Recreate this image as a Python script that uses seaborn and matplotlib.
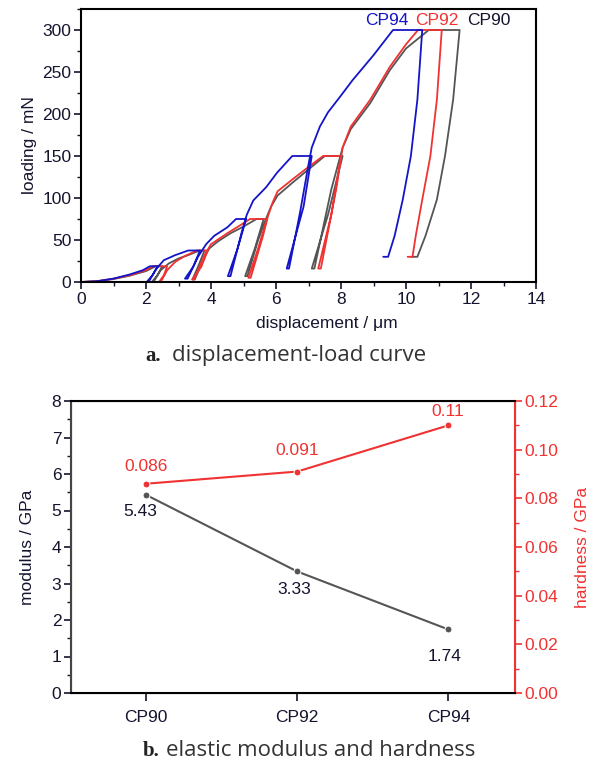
import matplotlib
matplotlib.use("Agg")
import matplotlib.pyplot as plt
import seaborn as sns
from matplotlib.ticker import MultipleLocator

# load-displacement curves (displacement in um, load in mN)
cp94_disp = [0, 0.5, 1.0, 1.5, 1.9, 2.12, 2.37, 2.2, 2.02,
             2.08, 2.3, 2.55, 2.9, 3.3, 3.66, 3.45, 3.2,
             3.28, 3.6, 3.85, 4.1, 4.5, 4.77, 5.08, 4.82, 4.52,
             4.6, 4.95, 5.1, 5.3, 5.7, 6.03, 6.5, 7.1, 6.85, 6.33,
             6.4, 6.75, 7.0, 7.1, 7.35, 7.6, 8.0, 8.35, 9.0, 9.6, 10.5,
             10.35, 10.15, 9.9, 9.65, 9.45, 9.3]
cp94_load = [0, 1, 4, 9, 14, 18.75, 18.75, 8, 0,
             0, 15, 26, 32, 37.5, 37.5, 18, 4,
             4, 30, 45, 55, 65, 75, 75, 40, 7,
             7, 60, 80, 97, 113, 130, 150, 150, 90, 16,
             16, 85, 140, 160, 185, 202, 222, 240, 270, 300, 300,
             217, 150, 98, 55, 30, 30]

cp92_disp = [0, 0.5, 1.0, 1.5, 2.0, 2.2, 2.65, 2.55, 2.4,
             2.45, 2.65, 2.9, 3.2, 3.57, 3.9, 3.7, 3.42,
             3.48, 3.8, 4.0, 4.5, 5.0, 5.2, 5.72, 5.45, 5.15,
             5.22, 5.6, 5.75, 5.9, 6.05, 6.5, 7.0, 7.45, 8.0, 7.7, 7.3,
             7.38, 7.85, 8.05, 8.3, 8.9, 9.5, 10.0, 10.37, 11.1,
             10.95, 10.75, 10.5, 10.3, 10.2, 10.05]
cp92_load = [0, 1, 4, 8, 14, 18.75, 18.75, 8, 0,
             0, 14, 24, 31, 37.5, 37.5, 18, 3,
             3, 32, 45, 58, 70, 75, 75, 40, 5,
             5, 55, 78, 95, 108, 122, 137, 150, 150, 80, 16,
             16, 110, 160, 185, 217, 256, 283, 300, 300,
             217, 150, 98, 55, 30, 30]

cp90_disp = [0, 0.5, 1.0, 1.5, 2.0, 2.3, 2.5, 2.35, 2.18,
             2.23, 2.45, 2.7, 3.0, 3.3, 3.65, 3.8, 3.6, 3.43,
             3.5, 3.8, 3.95, 4.2, 4.6, 5.0, 5.4, 5.62, 5.35, 5.05,
             5.12, 5.45, 5.7, 5.85, 6.05, 6.5, 7.0, 7.5, 8.05, 7.6, 7.1,
             7.18, 7.7, 8.05, 8.3, 8.9, 9.5, 10.0, 10.7, 11.65,
             11.45, 11.2, 10.95, 10.6, 10.35, 10.15]
cp90_load = [0, 0.8, 3.5, 7.5, 13, 18.75, 18.75, 8, 0,
             0, 14, 22, 28, 32, 37.5, 37.5, 18, 3,
             3, 30, 40, 48, 58, 66, 75, 75, 40, 7,
             7, 50, 76, 90, 103, 118, 134, 150, 150, 80, 16,
             16, 110, 160, 182, 213, 252, 278, 300, 300,
             217, 150, 98, 55, 30, 30]

# modulus and hardness
samples = ["CP90", "CP92", "CP94"]
modulus = [5.43, 3.33, 1.74]
hardness = [0.086, 0.091, 0.11]

blue = "#1414c8"
red = "#f03232"
grey = "#555555"
navy = "#14142e"
fs = 12.5

sns.set_style("ticks")
plt.rcParams["font.family"] = ["Liberation Sans", "DejaVu Sans"]
plt.rcParams["font.size"] = fs
plt.rcParams["text.color"] = navy
plt.rcParams["axes.labelcolor"] = navy
plt.rcParams["xtick.color"] = navy
plt.rcParams["ytick.color"] = navy

fig = plt.figure(figsize=(5.96, 7.66), dpi=100)
W, H = 596, 766

# ---- a. displacement-load curve
ax = fig.add_axes([81 / W, 1 - 282 / H, 455 / W, 273 / H])
for d, l, c in [(cp90_disp, cp90_load, grey), (cp92_disp, cp92_load, red),
                (cp94_disp, cp94_load, blue)]:
    sns.lineplot(x=d, y=l, sort=False, estimator=None, color=c, lw=1.3, ax=ax)
ax.set_xlim(0, 14)
ax.set_ylim(0, 325)
ax.xaxis.set_major_locator(MultipleLocator(2))
ax.xaxis.set_minor_locator(MultipleLocator(1))
ax.yaxis.set_major_locator(MultipleLocator(50))
ax.yaxis.set_minor_locator(MultipleLocator(25))
ax.tick_params(which="major", length=5, width=1.2, labelsize=fs, pad=2)
ax.tick_params(which="minor", length=3, width=1.0)
for s in ax.spines.values():
    s.set_linewidth(1.5)
    s.set_color("black")
ax.set_xlabel("displacement / μm", fontsize=fs)
ax.xaxis.set_label_coords(0.54, -0.125)
ax.set_ylabel("loading / mN", fontsize=fs, labelpad=4)
ax.text(9.4, 311, "CP94", color=blue, fontsize=fs, ha="center", va="center")
ax.text(10.95, 311, "CP92", color=red, fontsize=fs, ha="center", va="center")
ax.text(12.55, 311, "CP90", color=navy, fontsize=fs, ha="center", va="center")

fig.text(145 / W, 1 - 356 / H, "a.", fontsize=15, fontweight="bold",
         family="Liberation Serif", va="center", ha="left", color="#222222")
fig.text(172 / W, 1 - 355 / H, "displacement-load curve", fontsize=16,
         family="Open Sans", va="center", ha="left", color="#333333")

# ---- b. elastic modulus and hardness
bx = fig.add_axes([71 / W, 1 - 693 / H, 444 / W, 292 / H])
sns.lineplot(x=samples, y=modulus, sort=False, color=grey, marker="o",
             markersize=5, lw=1.5, ax=bx)
bx2 = bx.twinx()
sns.lineplot(x=samples, y=hardness, sort=False, color=red, marker="o",
             markersize=5, lw=1.5, ax=bx2)
bx.set_xlim(-0.495, 2.44)
bx.set_ylim(0, 8)
bx2.set_ylim(0, 0.12)
bx.yaxis.set_major_locator(MultipleLocator(1))
bx.yaxis.set_minor_locator(MultipleLocator(0.5))
bx2.yaxis.set_major_locator(MultipleLocator(0.02))
bx2.yaxis.set_minor_locator(MultipleLocator(0.01))
bx2.set_yticklabels([f"{v:.2f}" for v in bx2.get_yticks()])
bx.tick_params(which="major", length=5, width=1.2, labelsize=fs, pad=2)
bx.tick_params(which="minor", length=3, width=1.0)
bx.tick_params(axis="x", length=6, pad=6)
bx2.tick_params(which="major", length=5, width=1.2, labelsize=fs, colors=red, pad=2)
bx2.tick_params(which="minor", length=3, width=1.0, colors=red)
for s in ["top", "bottom"]:
    bx2.spines[s].set_color("black")
    bx2.spines[s].set_linewidth(1.5)
bx2.spines["left"].set_color("#444444")
bx2.spines["left"].set_linewidth(1.5)
bx2.spines["right"].set_color(red)
bx2.spines["right"].set_linewidth(1.5)
bx.set_xlabel("")
bx.set_ylabel("modulus / GPa", fontsize=fs, labelpad=12)
bx2.set_ylabel("hardness / GPa", fontsize=fs, color=red, labelpad=12)

mod_off = [(-6, -17), (-3, -18), (-4, -27)]
hard_off = [(0, 17), (0, 21), (-1, 14)]
for i, s in enumerate(samples):
    bx.annotate(f"{modulus[i]:.2f}", (i, modulus[i]),
                xytext=(mod_off[i][0] * 0.72, mod_off[i][1] * 0.72),
                textcoords="offset points", ha="center", va="center",
                fontsize=fs, color=navy)
    bx2.annotate(f"{hardness[i]:g}", (i, hardness[i]),
                 xytext=(hard_off[i][0] * 0.72, hard_off[i][1] * 0.72),
                 textcoords="offset points", ha="center", va="center",
                 fontsize=fs, color=red)

fig.text(143 / W, 1 - 751 / H, "b.", fontsize=15, fontweight="bold",
         family="Liberation Serif", va="center", ha="left", color="#222222")
fig.text(166 / W, 1 - 750 / H, "elastic modulus and hardness", fontsize=16,
         family="Open Sans", va="center", ha="left", color="#333333")

fig.savefig("out.png", dpi=100)
